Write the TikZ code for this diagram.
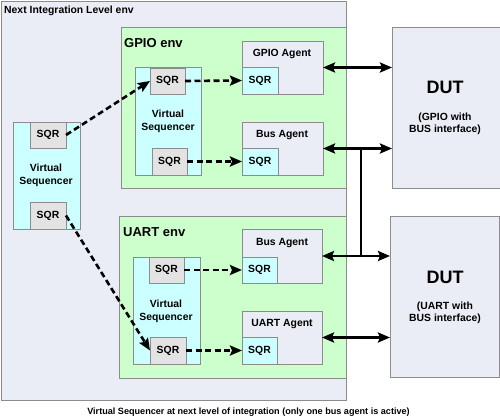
\documentclass[tikz,border=0pt]{standalone}
\usepackage{fontspec}
\setmainfont{Liberation Sans}
\usetikzlibrary{arrows.meta, positioning, calc}
\definecolor{envgray}{HTML}{EBEDF6}
\definecolor{envgreen}{HTML}{CCFFCC}
\definecolor{vscyan}{HTML}{CCFFFF}
\definecolor{sqrgray}{HTML}{E3E3E3}
\definecolor{edgegray}{HTML}{8C8C8C}

\begin{document}
\begin{tikzpicture}[x=1pt, y=-1pt,
    plainbox/.style={draw=edgegray, line width=0.8pt, anchor=north west, inner sep=0pt, outer sep=0pt,
        font=\fontsize{10.4}{12}\selectfont\bfseries},
    envbox/.style={plainbox, fill=envgreen},
    vsbox/.style={plainbox, fill=vscyan, minimum width=67pt, minimum height=107pt},
    sqrbox/.style={plainbox, fill=sqrgray, minimum width=35pt, minimum height=26pt},
    agsqr/.style={sqrbox, fill=vscyan},
    agentbox/.style={plainbox, fill=envgray, minimum width=81pt, minimum height=53pt},
    dutbox/.style={plainbox, fill=envgray, minimum width=108pt, minimum height=161pt},
    txt/.style={font=\fontsize{10.4}{13}\selectfont\bfseries, inner sep=0pt, align=center},
    envtitle/.style={font=\fontsize{13}{15}\selectfont\bfseries, inner sep=0pt, anchor=west},
    dasharrow/.style={line width=2.6pt, dash pattern=on 6pt off 3.5pt, -{Stealth[length=12pt, width=10pt, inset=2pt]}},
    busarrow/.style={line width=2.6pt, {Stealth[length=12pt, width=10pt, inset=2pt]}-{Stealth[length=12pt, width=10pt, inset=2pt]}}
]
\useasboundingbox (0,0) rectangle (500,419);

% Next integration level
\node[plainbox, fill=envgray, minimum width=345pt, minimum height=399pt] (top) at (1,1) {};
\node[txt, anchor=west] (toptitle) at (4,11) {Next Integration Level env};

% Top level virtual sequencer
\node[vsbox] (ovs) at (13,122) {};
\node[sqrbox, minimum width=36pt] (osqr1) at (30,122) {SQR};
\node[sqrbox, minimum width=36pt, minimum height=27pt] (osqr2) at (30,202) {SQR};
\node[txt] (ovstext) at (46,175) {Virtual\\Sequencer};

% GPIO env
\node[envbox, minimum width=225pt, minimum height=161pt] (genv) at (121,27) {};
\node[envtitle] (gtitle) at (124,43) {GPIO env};
\node[vsbox, minimum width=66pt, minimum height=108pt] (gvs) at (135,67) {};
\node[sqrbox] (gsqr1) at (150,68) {SQR};
\node[sqrbox, minimum height=27pt] (gsqr2) at (152,148) {SQR};
\node[txt] (gvstext) at (168,121) {Virtual\\Sequencer};

\node[agentbox] (gagent) at (242,41) {};
\node[agsqr, minimum width=36pt, minimum height=27pt] (gagsqr) at (242,67) {SQR};
\node[txt] (gagtitle) at (282,54) {GPIO Agent};
\node[agentbox] (gbus) at (242,122) {};
\node[agsqr, minimum width=36pt, minimum height=27pt] (gbussqr) at (242,148) {SQR};
\node[txt] (gbustitle) at (282,135) {Bus Agent};

% UART env
\node[envbox, minimum width=227pt, minimum height=162pt] (uenv) at (119,216) {};
\node[envtitle] (utitle) at (123,232) {UART env};
\node[vsbox] (uvs) at (133,257) {};
\node[sqrbox] (usqr1) at (149,257) {SQR};
\node[sqrbox, minimum width=36pt, minimum height=27pt] (usqr2) at (150,337) {SQR};
\node[txt] (uvstext) at (166,311) {Virtual\\Sequencer};

\node[agentbox, minimum width=80pt, minimum height=54pt] (ubus) at (242,229) {};
\node[agsqr] (ubussqr) at (242,257) {SQR};
\node[txt] (ubustitle) at (282,243) {Bus Agent};
\node[agentbox, minimum width=80pt] (uagent) at (242,311) {};
\node[agsqr, minimum height=27pt] (uagsqr) at (242,337) {SQR};
\node[txt] (uagtitle) at (282,324) {UART Agent};

% DUTs
\node[dutbox] (dut1) at (392,27) {};
\node[font=\fontsize{18}{20}\selectfont\bfseries, inner sep=0pt] (dut1name) at (445,87) {DUT};
\node[txt, font=\fontsize{10.4}{12}\selectfont\bfseries] (dut1text) at (445,124) {(GPIO with\\BUS interface)};
\node[dutbox, minimum width=109pt] (dut2) at (390,216) {};
\node[font=\fontsize{18}{20}\selectfont\bfseries, inner sep=0pt] (dut2name) at (445,277) {DUT};
\node[txt, font=\fontsize{10.4}{12}\selectfont\bfseries] (dut2text) at (445,313) {(UART with\\BUS interface)};

% Sequencer links
\draw[dasharrow] (osqr1.east) -- (gsqr1.west);
\draw[dasharrow] (osqr2.east) -- (usqr2.west);
\draw[dasharrow] (gsqr1.east) -- (gagsqr.west);
\draw[dasharrow] (gsqr2.east) -- (gbussqr.west);
\draw[dasharrow] (usqr1.east) -- (ubussqr.west);
\draw[dasharrow] (usqr2.east) -- (uagsqr.west);

% Interfaces
\coordinate (jx) at (361,0);
\draw[busarrow] (gagent.east) -- (gagent.east -| dut1.west);
\draw[busarrow] (gbus.east) -- (gbus.east -| dut1.west);
\draw[busarrow] (ubus.east) -- (ubus.east -| dut2.west);
\draw[busarrow] (uagent.east) -- (uagent.east -| dut2.west);
\draw[line width=2.6pt] (gbus.east -| jx) -- (ubus.east -| jx);

% Caption
\node[font=\fontsize{9.1}{11}\selectfont\bfseries, inner sep=0pt] (caption) at (248.5,412)
    {Virtual Sequencer at next level of integration (only one bus agent is active)};

\end{tikzpicture}
\end{document}
